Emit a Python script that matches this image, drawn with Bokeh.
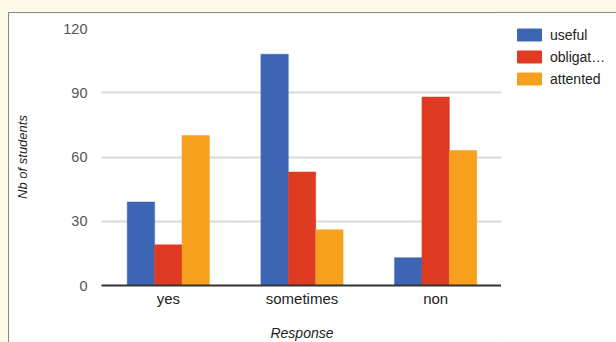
from bokeh.plotting import figure
from bokeh.models import FactorRange, Legend, LegendItem, ColumnDataSource, FixedTicker
from bokeh.transform import dodge
from bokeh.layouts import column, row
from bokeh.embed import file_html
from bokeh.resources import INLINE

# Survey answers: how students rated the sessions
responses = ["yes", "sometimes", "non"]
useful = [39, 108, 13]
obligatory = [19, 53, 88]
attended = [70, 26, 63]
series_labels = ["useful", "obligat\u2026", "attented"]
y_ticks = [0, 30, 60, 90, 120]

colors = ["#3c66b4", "#df3a22", "#f7a01d"]
FONT = "Liberation Sans"
PANEL_BORDER = "1px solid #8a8a8a"

source = ColumnDataSource(dict(
    response=responses, useful=useful, obligatory=obligatory, attended=attended,
))

p = figure(
    x_range=FactorRange(*responses, range_padding=0),
    y_range=(0, 120),
    width=493, height=330,
    output_backend="svg", toolbar_location=None,
    min_border_left=92, min_border_right=0,
    min_border_top=15, min_border_bottom=50,
)
p.outline_line_color = None
p.border_fill_color = "white"
p.margin = (12, 0, 0, 8)
p.styles = {"border-top": PANEL_BORDER, "border-left": PANEL_BORDER}

bw = 0.205
renderers = []
for field, off, col in zip(["useful", "obligatory", "attended"], [-bw, 0, bw], colors):
    r = p.vbar(x=dodge("response", off, range=p.x_range), top=field, width=bw,
               source=source, fill_color=col, line_color=col, line_width=0.5)
    renderers.append(r)

# axes
for ax in (p.xaxis, p.yaxis):
    ax.major_tick_line_color = None
    ax.minor_tick_line_color = None
    ax.major_tick_out = 0
    ax.major_tick_in = 0
    ax.minor_tick_out = 0
    ax.major_label_text_font = FONT
    ax.axis_label_text_font = FONT
    ax.axis_label_text_font_style = "italic"
    ax.axis_label_text_color = "#222222"

p.yaxis.ticker = FixedTicker(ticks=y_ticks)
p.yaxis.axis_line_color = None
p.yaxis.major_label_standoff = 14
p.yaxis.major_label_text_font_size = "14.5px"
p.yaxis.major_label_text_color = "#555555"
p.yaxis.axis_label = "Nb of students"
p.yaxis.axis_label_text_font_size = "13px"
p.yaxis.axis_label_standoff = 30

p.xaxis.axis_line_color = "#333333"
p.xaxis.axis_line_width = 2
p.xaxis.major_label_standoff = 4
p.xaxis.major_label_text_font_size = "15px"
p.xaxis.major_label_text_color = "#222222"
p.xaxis.axis_label = "Response"
p.xaxis.axis_label_text_font_size = "14px"
p.xaxis.axis_label_standoff = 15

p.xgrid.grid_line_color = None
p.ygrid.grid_line_color = "#d9d9d9"
p.ygrid.grid_line_width = 2

# legend lives in its own narrow panel to the right of the bars;
# its swatch renderers sit outside the panel's visible range
lf = figure(
    width=115, height=330, x_range=(0, 1), y_range=(0, 1),
    output_backend="svg", toolbar_location=None,
    x_axis_location=None, y_axis_location=None,
    min_border=0, min_border_top=0, min_border_bottom=0,
    min_border_left=0, min_border_right=0,
)
lf.title = None
lf.outline_line_color = None
lf.grid.grid_line_color = None
lf.margin = (12, 0, 0, 0)
lf.styles = {"border-top": PANEL_BORDER}
swatches = [lf.vbar(x=[-5], top=[-5], width=0.1, fill_color=c, line_color=c) for c in colors]

legend = Legend(
    items=[LegendItem(label=lab, renderers=[r]) for lab, r in zip(series_labels, swatches)],
    location="top_left",
    glyph_width=30, glyph_height=15, label_height=17,
    label_standoff=6, spacing=5, padding=0, margin=13,
    border_line_color=None, background_fill_alpha=0,
    label_text_font=FONT, label_text_font_size="14px", label_text_color="#222222",
)
lf.add_layout(legend, "center")

page = column(row(p, column(lf)), width=616, height=342,
              styles={"background-color": "#fdf9e8"})

open("out.html", "w").write(file_html(page, INLINE))
